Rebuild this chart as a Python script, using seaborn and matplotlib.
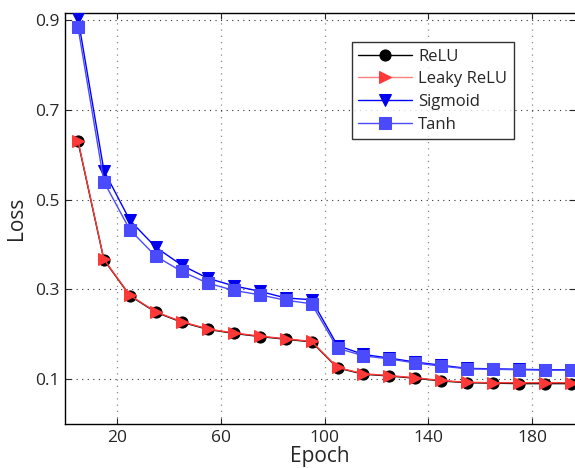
import matplotlib
matplotlib.use("Agg")
import matplotlib.pyplot as plt
import seaborn as sns
import pandas as pd

epochs = [5, 15, 25, 35, 45, 55, 65, 75, 85, 95, 105, 115, 125, 135, 145, 155, 165, 175, 185, 195]
relu = [0.630, 0.366, 0.286, 0.249, 0.227, 0.211, 0.202, 0.195, 0.189, 0.183, 0.125, 0.111, 0.107, 0.102, 0.096, 0.092, 0.091, 0.090, 0.090, 0.090]
leaky = [0.632, 0.367, 0.287, 0.250, 0.228, 0.212, 0.203, 0.196, 0.190, 0.184, 0.126, 0.112, 0.108, 0.103, 0.097, 0.093, 0.092, 0.092, 0.092, 0.092]
sigmoid = [0.905, 0.565, 0.454, 0.394, 0.354, 0.325, 0.308, 0.296, 0.281, 0.277, 0.175, 0.155, 0.147, 0.138, 0.131, 0.124, 0.123, 0.122, 0.121, 0.121]
tanh = [0.885, 0.540, 0.433, 0.374, 0.340, 0.314, 0.298, 0.288, 0.276, 0.268, 0.169, 0.152, 0.145, 0.136, 0.129, 0.123, 0.122, 0.121, 0.120, 0.120]

names = ["ReLU", "Leaky ReLU", "Sigmoid", "Tanh"]
series = [relu, leaky, sigmoid, tanh]
line_colors = ["#000000", "#ff3838", "#0000ff", "#4a4aff"]
marker_colors = ["#000000", "#ff3838", "#0000ee", "#4a4aff"]
marker_shapes = ["o", ">", "v", "s"]

rows = []
for n, s in zip(names, series):
    for e, v in zip(epochs, s):
        rows.append({"Epoch": e, "Loss": v, "Model": n})
df = pd.DataFrame(rows)

sns.set_style("ticks")
plt.rcParams["font.family"] = ["Open Sans", "DejaVu Sans"]

fig = plt.figure(figsize=(5.75, 4.68), dpi=100)
ax = fig.add_axes([0.113, 0.094, 0.887, 0.878])

for n, s, lc, mc, m in zip(names, series, line_colors, marker_colors, marker_shapes):
    sub = df[df["Model"] == n]
    sns.lineplot(data=sub, x="Epoch", y="Loss", ax=ax, color=lc, linewidth=1.0,
                 marker=m, markersize=8, markerfacecolor=mc, markeredgecolor=mc,
                 label=n, legend=False, zorder=3)

ax.set_xlim(0, 196.5)
ax.set_ylim(0, 0.916)
ax.set_xticks([20, 60, 100, 140, 180])
ax.set_yticks([0.1, 0.3, 0.5, 0.7, 0.9])
ax.set_yticklabels(["0.1", "0.3", "0.5", "0.7", "0.9"])
ax.tick_params(which="both", direction="in", top=True, right=True, labelsize=12.5, pad=4)
ax.tick_params(which="major", length=4, width=0.8)
ax.xaxis.grid(True, linestyle=(0, (1, 4)), color="#8a8a8a", linewidth=0.9)
ax.yaxis.grid(True, linestyle=(0, (1, 4)), color="#333333", linewidth=0.8)
for sp in ax.spines.values():
    sp.set_linewidth(1.0)
    sp.set_color("black")
ax.spines["right"].set_visible(False)

ax.set_xlabel("Epoch", fontsize=15, labelpad=0)
ax.set_ylabel("Loss", fontsize=15, labelpad=6)

handles, labels = ax.get_legend_handles_labels()
leg = ax.legend(handles, labels, loc="upper left", bbox_to_anchor=(0.562, 0.93),
                fontsize=12, frameon=True, fancybox=False, edgecolor="black",
                handlelength=3.2, borderpad=0.4, labelspacing=0.4, handletextpad=0.4,
                borderaxespad=0)
leg.get_frame().set_linewidth(1.0)
leg_lines = leg.get_lines()
leg_lines[1].set_color("#ff8080")
leg_lines[1].set_markerfacecolor("#ff3838")
leg_lines[1].set_markeredgecolor("#ff3838")

fig.savefig("out.png", dpi=100)
